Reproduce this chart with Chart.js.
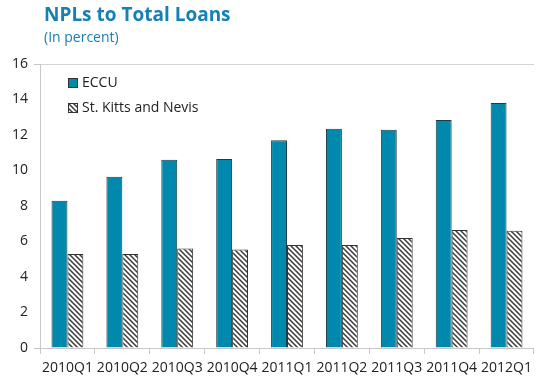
<!DOCTYPE html>
<html>
<head>
<meta charset="utf-8">
<script src="https://cdn.jsdelivr.net/npm/chart.js@4/dist/chart.umd.min.js"></script>
<style>
    html, body { margin: 0; padding: 0; background: #fff; }
    #wrap { position: relative; width: 538px; height: 381px; }
    #title { position: absolute; left: 44px; top: 1px; font: bold 19px "Open Sans", sans-serif; color: #1580b3; }
    #subtitle { position: absolute; left: 44px; top: 27px; font: 14px "Open Sans", sans-serif; color: #1580b3; }
    canvas { position: absolute; left: 0; top: 0; }
</style>
</head>
<body>
<div id="wrap">
    <canvas id="myChart" width="538" height="381"></canvas>
    <div id="title">NPLs to Total Loans</div>
    <div id="subtitle">(In percent)</div>
</div>
<script>
// Dados
const categories = ['2010Q1', '2010Q2', '2010Q3', '2010Q4', '2011Q1', '2011Q2', '2011Q3', '2011Q4', '2012Q1'];
const eccuValues = [8.3, 9.65, 10.6, 10.65, 11.7, 12.35, 12.3, 12.85, 13.8];
const skbValues = [5.3, 5.3, 5.6, 5.55, 5.8, 5.8, 6.2, 6.65, 6.6];
const yTicks = [0, 2, 4, 6, 8, 10, 12, 14, 16];

const tealColor = '#0089ad';
const fontFamily = '"Open Sans", sans-serif';

// Padrão hachurado para St. Kitts and Nevis
function makeHatch() {
    const p = document.createElement('canvas');
    p.width = 5;
    p.height = 5;
    const c = p.getContext('2d');
    c.fillStyle = '#ffffff';
    c.fillRect(0, 0, 5, 5);
    c.strokeStyle = '#3a3a3a';
    c.lineWidth = 1.5;
    c.beginPath();
    c.moveTo(-1, -1); c.lineTo(6, 6);
    c.moveTo(-1, 4); c.lineTo(1, 6);
    c.moveTo(4, -1); c.lineTo(6, 1);
    c.stroke();
    return c.createPattern(p, 'repeat');
}
const hatch = makeHatch();

// Legenda desenhada dentro da área do gráfico
const insideLegend = {
    id: 'insideLegend',
    afterDraw(chart) {
        const ctx = chart.ctx;
        const items = [
            { label: 'ECCU', fill: tealColor, y: 78 },
            { label: 'St. Kitts and Nevis', fill: hatch, y: 103 }
        ];
        ctx.save();
        ctx.font = '14px ' + fontFamily;
        ctx.textBaseline = 'middle';
        items.forEach(item => {
            ctx.fillStyle = item.fill;
            ctx.fillRect(68, item.y, 10, 10);
            ctx.strokeStyle = '#333333';
            ctx.lineWidth = 1;
            ctx.strokeRect(68.5, item.y + 0.5, 9, 9);
            ctx.fillStyle = '#222222';
            ctx.fillText(item.label, 82, item.y + 5);
        });
        ctx.restore();
    }
};

new Chart(document.getElementById('myChart'), {
    type: 'bar',
    data: {
        labels: categories,
        datasets: [
            {
                label: 'ECCU',
                data: eccuValues,
                backgroundColor: tealColor,
                borderColor: '#1d3c45',
                borderWidth: 1,
                barPercentage: 1,
                categoryPercentage: 0.58
            },
            {
                label: 'St. Kitts and Nevis',
                data: skbValues,
                backgroundColor: hatch,
                borderColor: '#333333',
                borderWidth: 1,
                barPercentage: 1,
                categoryPercentage: 0.58
            }
        ]
    },
    options: {
        responsive: false,
        animation: false,
        layout: { padding: { top: 64, right: 0, left: 0, bottom: 0 } },
        plugins: {
            legend: { display: false },
            tooltip: { enabled: false }
        },
        scales: {
            x: {
                afterFit: function(scale) { scale.height = 33; },
                grid: {
                    offset: true,
                    drawOnChartArea: false,
                    drawTicks: true,
                    tickLength: 6,
                    tickColor: '#c8c8c8'
                },
                border: { color: '#c8c8c8' },
                ticks: {
                    color: '#222222',
                    font: { family: fontFamily, size: 14 },
                    maxRotation: 0,
                    autoSkip: false,
                    padding: 6
                }
            },
            y: {
                min: 0,
                max: 16,
                afterFit: function(scale) { scale.width = 40; },
                afterBuildTicks: function(scale) { scale.ticks = yTicks.map(v => ({ value: v })); },
                grid: {
                    color: ctx => (ctx.tick && ctx.tick.value === 16) ? '#d4d4d4' : 'rgba(0,0,0,0)',
                    tickColor: ctx => (ctx.tick && (ctx.tick.value === 16 || ctx.tick.value === 0)) ? '#c8c8c8' : 'rgba(0,0,0,0)',
                    tickLength: 6
                },
                border: { color: '#c8c8c8' },
                ticks: {
                    color: '#222222',
                    font: { family: fontFamily, size: 14 },
                    padding: 6
                }
            }
        }
    },
    plugins: [insideLegend]
});
</script>
</body>
</html>
